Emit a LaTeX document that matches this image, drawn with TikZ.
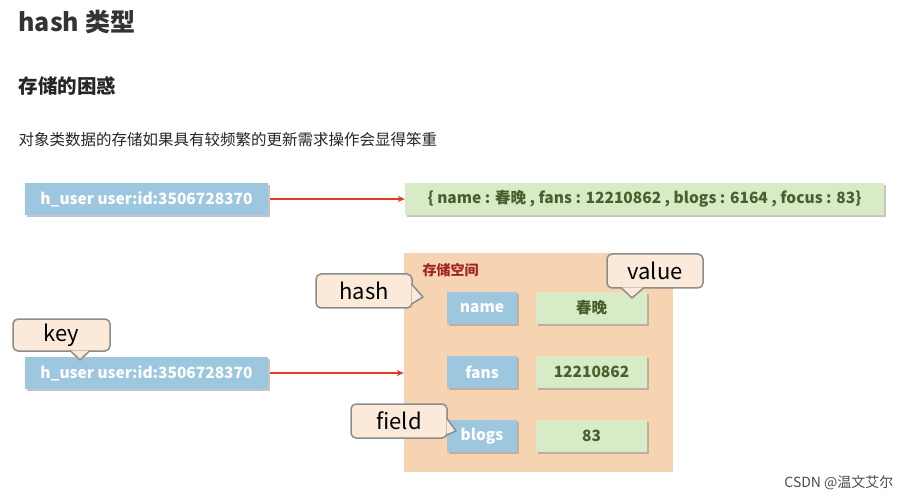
\documentclass[tikz,border=0pt]{standalone}
\usepackage{fontspec}
\setmainfont{Noto Sans CJK SC}
\usetikzlibrary{shadows,arrows.meta}
\definecolor{bluebox}{HTML}{9DC6DF}
\definecolor{greenbox}{HTML}{D9EBC6}
\definecolor{greentxt}{HTML}{4A5F2E}
\definecolor{orangebg}{HTML}{F6D3B1}
\definecolor{callfill}{HTML}{FBE9DA}
\definecolor{callline}{HTML}{8C8C8C}
\definecolor{darkred}{HTML}{A0261E}
\definecolor{arrowred}{HTML}{E33B26}
\tikzset{
 bluek/.style={fill=bluebox,text=white,font=\bfseries\fontsize{15.5}{17}\selectfont,inner sep=0pt,drop shadow={shadow xshift=2pt,shadow yshift=-2pt,fill=black!45}},
 greenv/.style={fill=greenbox,text=greentxt,font=\bfseries\fontsize{15.5}{17}\selectfont,inner sep=0pt,drop shadow={shadow xshift=2pt,shadow yshift=-2pt,fill=black!45}},
 callbox/.style={fill=callfill,draw=callline,line width=1.5pt,rounded corners=5pt,font=\fontsize{22}{24}\selectfont,inner sep=0pt},
 tail/.style={fill=callfill,draw=callline,line width=1.5pt,line join=round},
 redarrow/.style={draw=arrowred,line width=1.6pt,-{Stealth[length=7pt,width=6pt]}}
}
\begin{document}
\begin{tikzpicture}[x=1pt,y=-1pt]
\useasboundingbox[fill=white] (0,0) rectangle (912,502);
\node[anchor=west,font=\bfseries\fontsize{25}{28}\selectfont,text=black!80] (title) at (15,22) {hash 类型};
\node[anchor=west,font=\bfseries\fontsize{19.5}{22}\selectfont,text=black!85] (sub) at (15,86) {存储的困惑};
\node[anchor=west,font=\fontsize{15.5}{18}\selectfont,text=black!85] (desc) at (15,140) {对象类数据的存储如果具有较频繁的更新需求操作会显得笨重};
% top row
\node[bluek,minimum width=243pt,minimum height=32pt] (k1) at (146.5,199) {h\_user user:id:3506728370};
\node[greenv,minimum width=479pt,minimum height=32pt] (v1) at (644.5,199) {\{ name : 春晚 , fans : 12210862 , blogs : 6164 , focus : 83\}};
\draw[redarrow] (k1.east) ++(2pt,0) -- (v1.west);
% storage area
\node[fill=orangebg,minimum width=269pt,minimum height=219pt,inner sep=0pt] (store) at (538.5,362.5) {};
\node[anchor=west,text=darkred,font=\bfseries\fontsize{14}{16}\selectfont] (slabel) at (419,270) {存储空间};
\node[bluek,minimum width=70pt,minimum height=32pt] (f1) at (482,308) {name};
\node[greenv,minimum width=111pt,minimum height=32pt] (g1) at (591.5,308) {春晚};
\node[bluek,minimum width=70pt,minimum height=32pt] (f2) at (482,372) {fans};
\node[greenv,minimum width=111pt,minimum height=32pt] (g2) at (591.5,372) {12210862};
\node[bluek,minimum width=70pt,minimum height=32pt] (f3) at (482,436) {blogs};
\node[greenv,minimum width=111pt,minimum height=32pt] (g3) at (591.5,436) {83};
% second key
\node[bluek,minimum width=243pt,minimum height=32pt] (k2) at (146.5,373) {h\_user user:id:3506728370};
\draw[redarrow] (k2.east) ++(2pt,0) -- (store.west |- k2.east);
% callouts
\node[callbox,minimum width=97pt,minimum height=32pt] (ckey) at (61.5,335) {key};
\draw[tail] (70,350.5) -- (80,360) -- (90,350.5);
\fill[callfill] (69,348) rectangle (91,350.2);
\node[callbox,minimum width=96pt,minimum height=34pt] (chash) at (364,291) {hash};
\draw[tail] (411.5,284) -- (423,297) -- (411.5,304);
\fill[callfill] (409,285) rectangle (411,303);
\node[callbox,minimum width=96pt,minimum height=34pt] (cval) at (655,271) {value};
\draw[tail] (621,287.5) -- (632,298) -- (644,287.5);
\fill[callfill] (620,285) rectangle (645,287.2);
\node[callbox,minimum width=96pt,minimum height=34pt] (cfield) at (399,421) {field};
\draw[tail] (446.5,418) -- (456,431) -- (446.5,435);
\fill[callfill] (444,419) rectangle (446.2,434);
\node[anchor=east,text=black!70,font=\fontsize{14}{16}\selectfont] (wm) at (897,483) {CSDN @温文艾尔};
\end{tikzpicture}
\end{document}
